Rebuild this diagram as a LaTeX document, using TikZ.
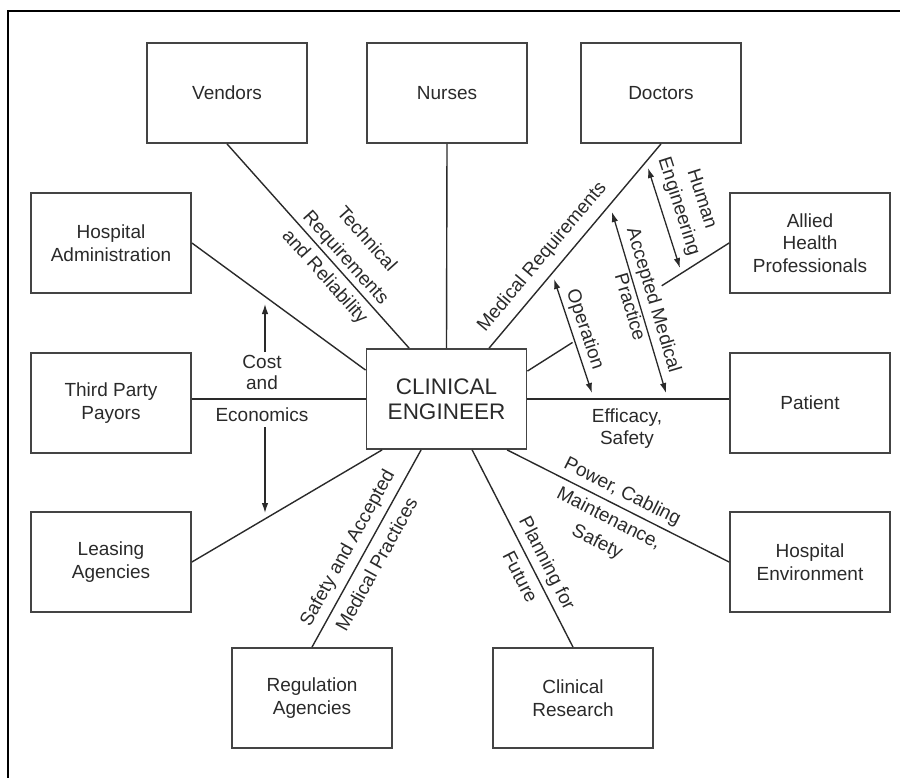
\documentclass[tikz,border=0pt]{standalone}
\usepackage{fontspec}
\setmainfont{Liberation Sans}
\usetikzlibrary{calc,arrows.meta}
\definecolor{ink}{HTML}{2A2A2A}
\definecolor{boxline}{HTML}{444444}
\begin{document}
\begin{tikzpicture}[x=1pt,y=-1pt,
  box/.style={draw=boxline, line width=1.8pt, minimum width=160pt, minimum height=100pt,
    align=center, inner sep=2pt, text=ink, font=\fontsize{19}{22.5}\selectfont},
  link/.style={draw=ink, line width=1.4pt},
  tip/.style={Latex[length=10pt,width=6.5pt]},
  dbl/.style={draw=ink, line width=1.3pt, {Latex[length=10pt,width=6.5pt]}-{Latex[length=10pt,width=6.5pt]}},
  sgl/.style={draw=ink, line width=1.3pt, -{Latex[length=10pt,width=6.5pt]}},
  lbl/.style={text=ink, font=\fontsize{19}{22}\selectfont, inner sep=0pt, align=center},
  slab/.style={lbl, sloped, anchor=center},
  frame/.style={draw=black, line width=1.3pt}]
\useasboundingbox (0,0) rectangle (900,778);
\draw[frame] (8,778) -- (8,11) -- (900,11);

% boxes
\node[box] (vendors) at (227,93) {Vendors};
\node[box] (nurses) at (447,93) {Nurses};
\node[box] (doctors) at (661,93) {Doctors};
\node[box] (admin) at (111,243) {Hospital\\Administration};
\node[box] (payors) at (111,403) {Third Party\\Payors};
\node[box] (leasing) at (111,562) {Leasing\\Agencies};
\node[box] (allied) at (810,243) {Allied\\Health\\Professionals};
\node[box] (patient) at (810,403) {Patient};
\node[box] (env) at (810,562) {Hospital\\Environment};
\node[box] (reg) at (312,698) {Regulation\\Agencies};
\node[box] (res) at (573,698) {Clinical\\Research};
\node[box, font=\fontsize{22.5}{25}\selectfont] (ce) at (446.5,399) {CLINICAL\\ENGINEER};

% attachment points on the central box
\coordinate (ceV) at ($(ce.north west)+(43.5,0)$);
\coordinate (ceD) at ($(ce.north west)+(123.5,0)$);
\coordinate (ceA) at ($(ce.north east)+(0,23)$);
\coordinate (ceH) at ($(ce.north west)+(0,22)$);
\coordinate (ceL) at ($(ce.south west)+(16.5,0)$);
\coordinate (ceR) at ($(ce.south west)+(55.5,0)$);
\coordinate (ceC) at ($(ce.south west)+(106.5,0)$);
\coordinate (ceE) at ($(ce.south west)+(141.5,0)$);
\coordinate (gapA) at ($(ceA)!0.224!(allied.west)$);
\coordinate (gapB) at ($(ceA)!0.666!(allied.west)$);

% connectors
\draw[link] (vendors.south) -- (ceV)
  node[pos=0.6, slab, yshift=26pt, font=\fontsize{19}{28}\selectfont] {Technical\\Requirements}
  node[pos=0.6, slab, yshift=-16pt] {and Reliability};
\draw[link] (nurses.south) -- (ce.north);
\draw[link] (ceD) -- (doctors.south)
  node[pos=0.39, slab, yshift=18pt] {Medical Requirements};
\draw[link] (admin.east) -- (ceH);
\draw[link] (payors.east |- ce.west) -- (ce.west);
\draw[link] (leasing.east) -- (ceL);
\draw[link] (ce.east) -- (ce.east -| patient.west);
\draw[link] (ceA) -- (gapA);
\draw[link] (gapB) -- (allied.west);
\draw[link] (ceE) -- (env.west)
  node[pos=0.49, slab, yshift=14pt] {Power, Cabling}
  node[pos=0.49, slab, yshift=-29pt, font=\fontsize{19}{26}\selectfont] {Maintenance,\\Safety};
\draw[link] (reg.north) -- (ceR)
  node[pos=0.46, slab, yshift=16pt] {Safety and Accepted}
  node[pos=0.46, slab, yshift=-16pt] {Medical Practices};
\draw[link] (ceC) -- (res.north)
  node[pos=0.61, slab, yshift=14pt] {Planning for}
  node[pos=0.61, slab, yshift=-15pt] {Future};

% arrows
\coordinate (opA) at (554,279);
\coordinate (opB) at (592,393);
\draw[dbl] (opA) -- (opB) node[pos=0.48, slab, yshift=13pt] {Operation};
\coordinate (amA) at (612,212);
\coordinate (amB) at (666,393);
\draw[dbl] (amA) -- (amB)
  node[pos=0.51, slab, yshift=14pt] {Accepted Medical}
  node[pos=0.51, slab, yshift=-9pt] {Practice};
\coordinate (heA) at (648,168);
\coordinate (heB) at (680,268);
\draw[dbl] (heA) -- (heB)
  node[pos=0.44, slab, yshift=29pt, font=\fontsize{19}{24}\selectfont] {Human\\Engineering};

\node[lbl, font=\fontsize{19}{21}\selectfont] (cost) at (262,372.5) {Cost\\and};
\node[lbl] (econ) at (262,415) {Economics};
\coordinate (costTip) at (265,304);
\coordinate (econTip) at (265,513);
\draw[sgl] (265,352) -- (costTip);
\draw[sgl] (265,427) -- (econTip);

\node[lbl] (eff) at (627,429) {Efficacy,\\Safety};
\end{tikzpicture}
\end{document}
